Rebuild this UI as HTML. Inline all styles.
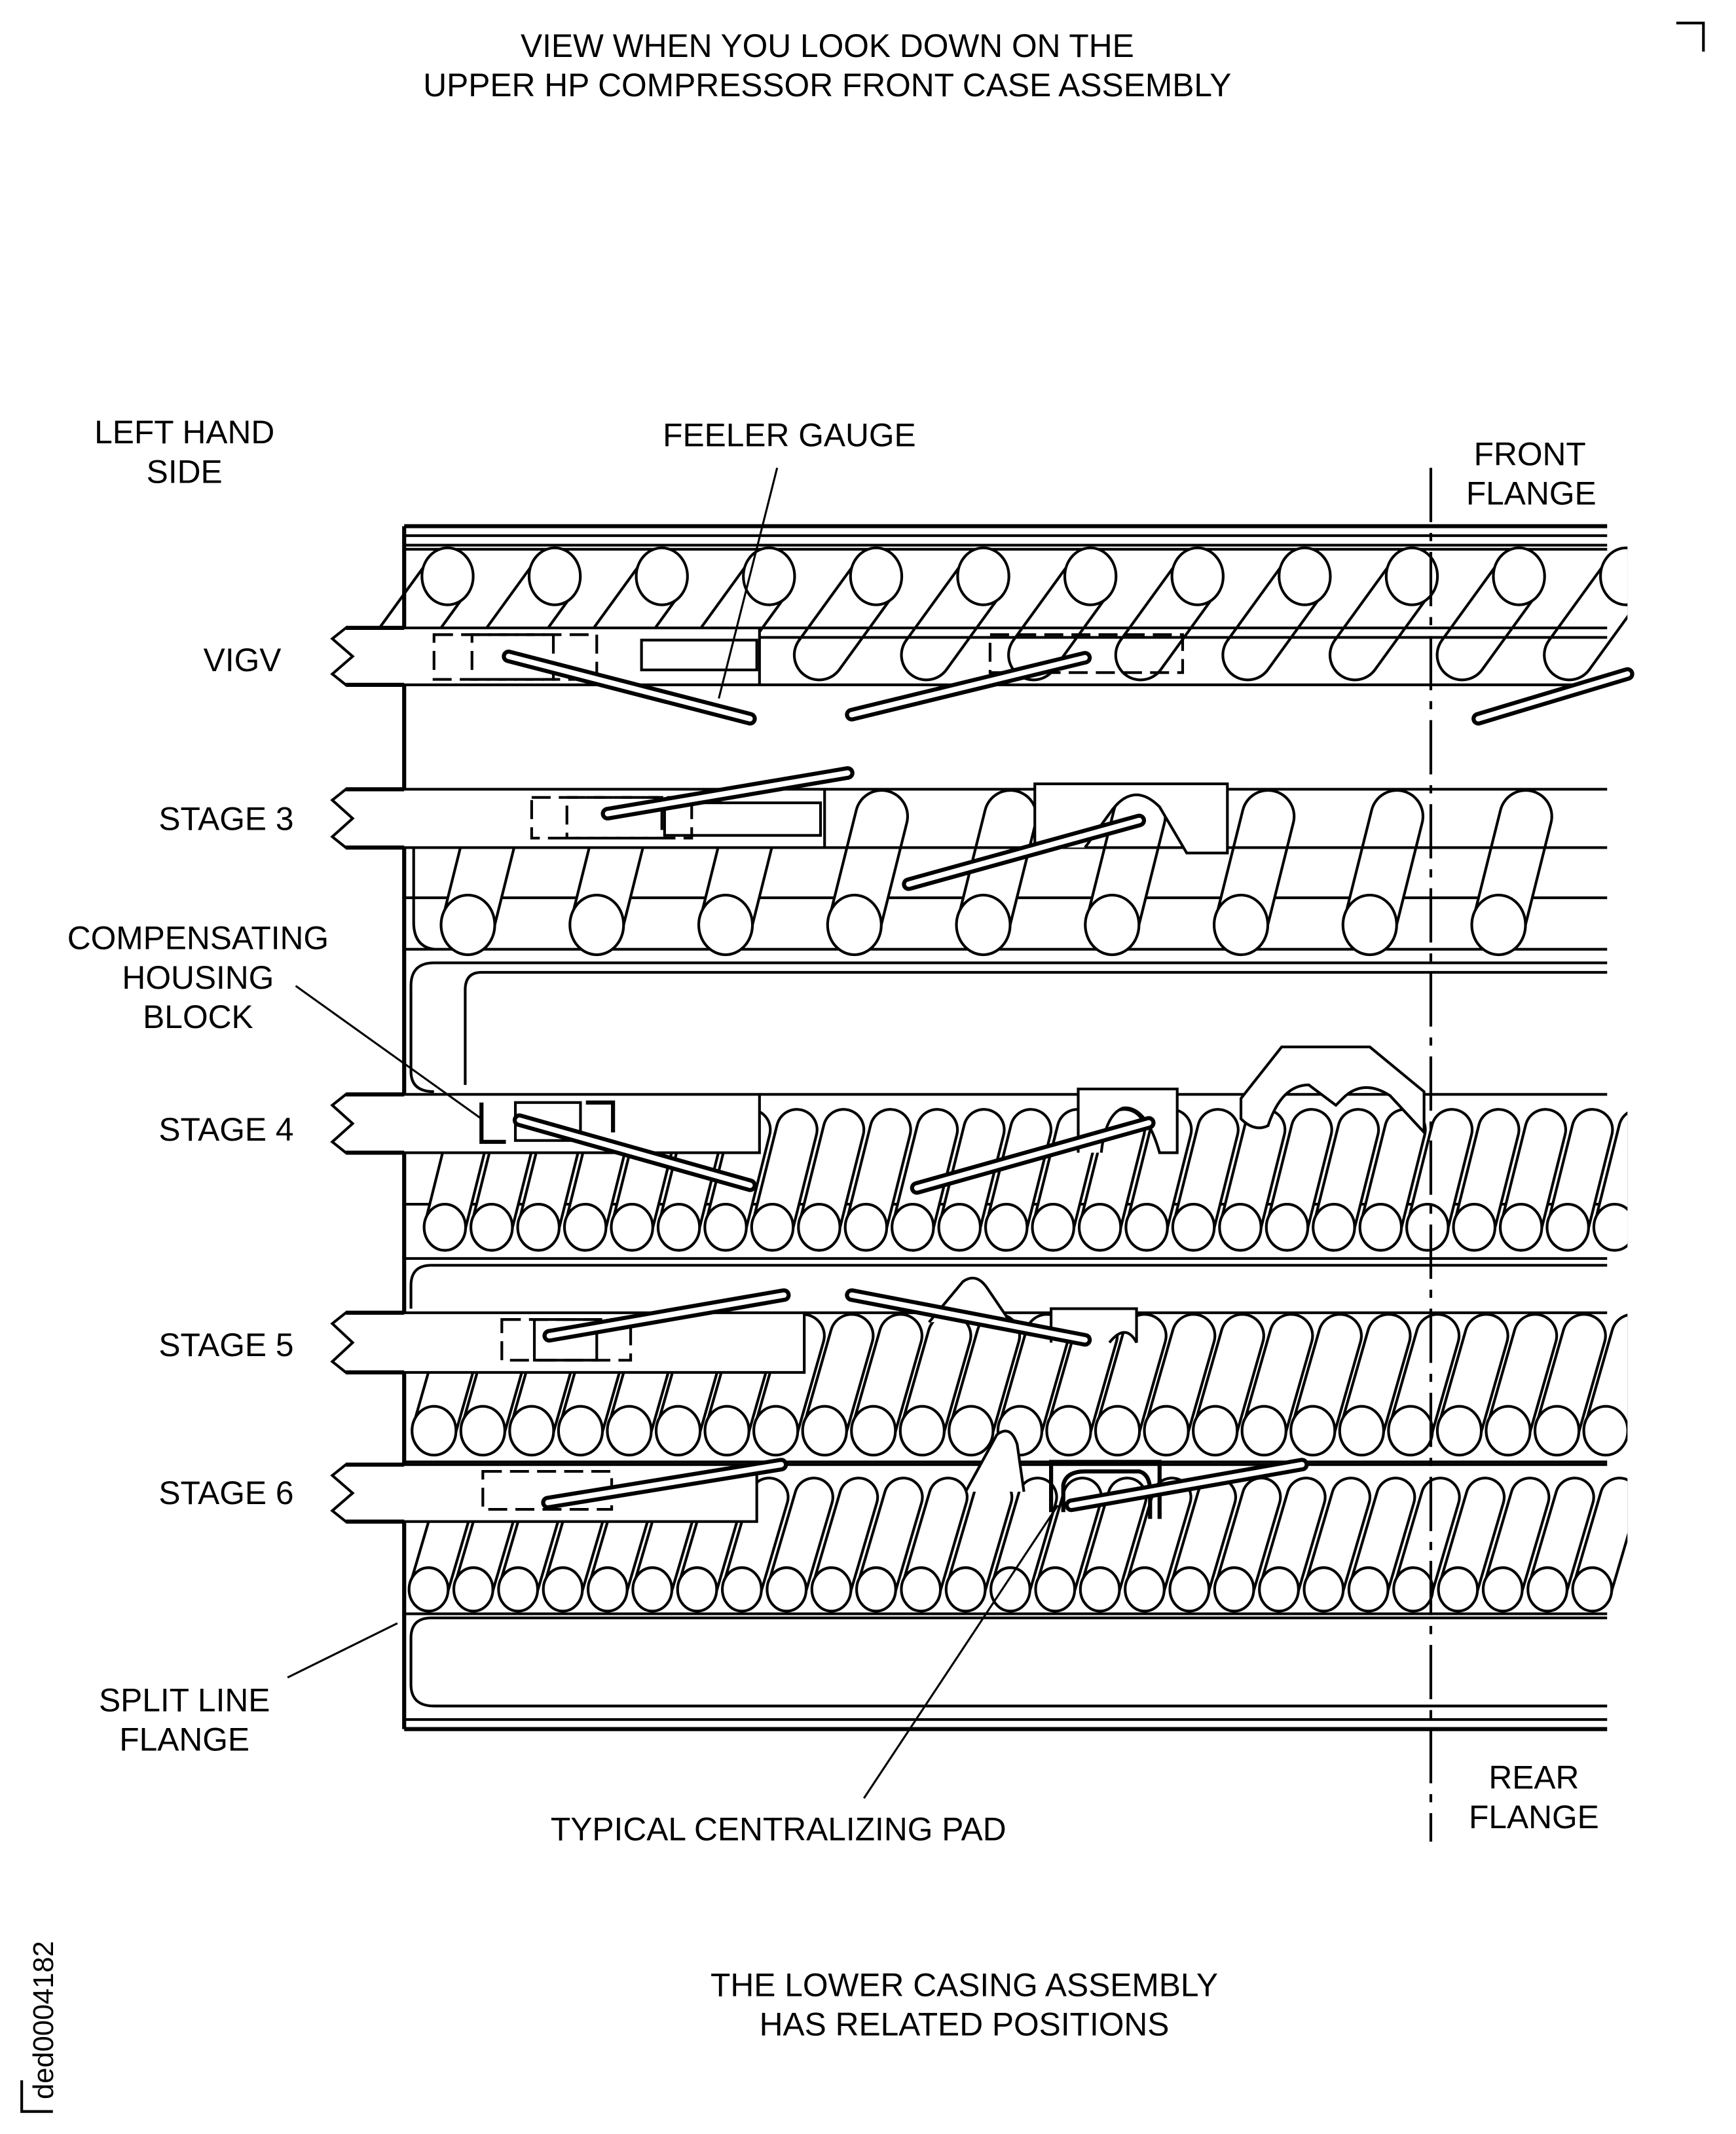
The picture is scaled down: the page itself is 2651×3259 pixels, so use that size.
<!DOCTYPE html>
<html><head><meta charset="utf-8"><style>
html,body{margin:0;padding:0;background:#fff}
svg{display:block}
text{font-family:"Liberation Sans",sans-serif;font-size:24px;fill:#000}
</style></head><body>
<svg id="s" xmlns="http://www.w3.org/2000/svg" width="2651" height="3259" viewBox="0 0 1280 1573.6">
<defs><clipPath id="cp"><rect x="0" y="0" width="1200" height="1574"/></clipPath></defs>
<rect width="1280" height="1574" fill="#fff"/>
<g id="vanes" clip-path="url(#cp)"></g>
<g id="fg" fill="none" stroke="#000" stroke-width="2">
</g>
<g text-anchor="middle">
<text x="610" y="42">VIEW WHEN YOU LOOK DOWN ON THE</text>
<text x="610" y="71">UPPER HP COMPRESSOR FRONT CASE ASSEMBLY</text>
<text x="136" y="327">LEFT HAND</text>
<text x="136" y="356">SIDE</text>
<text x="582" y="329">FEELER GAUGE</text>
<text x="1128" y="343">FRONT</text>
<text x="1129" y="372">FLANGE</text>
<text x="146" y="700">COMPENSATING</text>
<text x="146" y="729">HOUSING</text>
<text x="146" y="758">BLOCK</text>
<text x="136" y="1262">SPLIT LINE</text>
<text x="136" y="1291">FLANGE</text>
<text x="574" y="1357">TYPICAL CENTRALIZING PAD</text>
<text x="1131" y="1319">REAR</text>
<text x="1131" y="1348">FLANGE</text>
<text x="711" y="1472">THE LOWER CASING ASSEMBLY</text>
<text x="711" y="1501">HAS RELATED POSITIONS</text>
</g>
<text x="150" y="495">VIGV</text>
<text x="117" y="612">STAGE 3</text>
<text x="117" y="841">STAGE 4</text>
<text x="117" y="1000">STAGE 5</text>
<text x="117" y="1109">STAGE 6</text>
<text transform="translate(39,1548) rotate(-90)" style="font-size:21px">ded0004182</text>
<path d="M16,1534 V1557 H39" fill="none" stroke="#000" stroke-width="2"/>
<path d="M1236,17 H1256 V38" fill="none" stroke="#000" stroke-width="2"/>
</svg>
<script>
var NS="http://www.w3.org/2000/svg";
var V=document.getElementById("vanes"), F=document.getElementById("fg");
function el(p,t,a){var e=document.createElementNS(NS,t);for(var k in a)e.setAttribute(k,a[k]);p.appendChild(e);return e;}
function vane(cx,cy,r,dx,dy){
 el(V,"line",{x1:cx,y1:cy,x2:cx+dx,y2:cy+dy,stroke:"#000","stroke-width":2*r*0.85+3,"stroke-linecap":"round"});
 el(V,"line",{x1:cx,y1:cy,x2:cx+dx,y2:cy+dy,stroke:"#fff","stroke-width":2*r*0.85-1,"stroke-linecap":"round"});
 el(V,"ellipse",{cx:cx,cy:cy,rx:r*0.9,ry:r,fill:"#fff",stroke:"#000","stroke-width":2});
}
function L(x1,y1,x2,y2,w){el(F,"line",{x1:x1,y1:y1,x2:x2,y2:y2,"stroke-width":w||2});}
function HL(y,x1,x2,w){el(V,"line",{x1:x1||298,y1:y,x2:x2||1185,y2:y,stroke:"#000","stroke-width":w||2});}
HL(405);HL(662);HL(700);HL(888);HL(928);HL(1078);HL(1190);
for(var x=330;x<1200;x+=79) vane(x,425,21,-42,58);
for(var x=345;x<1200;x+=95) vane(x,682,22,20,-80);
for(var x=328;x<1205;x+=34.5) vane(x,905,17,18,-72);
for(var x=320;x<1205;x+=36) vane(x,1055,18,20,-70);
for(var x=316;x<1205;x+=33) vane(x,1172,16,20,-68);
L(298,388,1185,388,3);L(298,395,1185,395,2);L(298,402,1185,402,2);
L(298,1268,1185,1268,2);L(298,1275,1185,1275,3);
L(298,388,298,1275,3);
el(F,"path",{d:"M1185,710 H320 Q303,710 303,727 V790 Q303,805 320,805"});
el(F,"path",{d:"M1185,717 H355 Q343,717 343,730 V800"});
el(F,"path",{d:"M1185,933 H318 Q303,933 303,948 V965"});
el(F,"path",{d:"M1185,1193 H318 Q303,1193 303,1208 V1242 Q303,1258 320,1258 H1185"});
el(F,"path",{d:"M305,625 V680 Q305,698 320,700"});
function strip(y1,y2,x2){
 var m=(y1+y2)/2;
 el(F,"path",{d:"M"+x2+","+y1+" H255 L245,"+(y1+8)+" L260,"+m+" L245,"+(y2-8)+" L255,"+y2+" H"+x2+" V"+y1+" Z",fill:"#fff","stroke-width":2});
 L(255,y1,298,y1,3);L(255,y2,298,y2,3);
}
strip(463,505,560);strip(582,625,608);strip(807,850,560);strip(968,1012,593);strip(1080,1122,558);
L(560,463,1185,463);L(560,470,1185,470);L(560,505,1185,505);
L(608,582,1185,582);L(608,625,1185,625);
L(560,807,1185,807);L(593,968,1185,968);L(558,1080,1185,1080);
var ds={"stroke-dasharray":"14,6",fill:"none",stroke:"#000","stroke-width":2};
function db(x,y,w,h){var a={x:x,y:y,width:w,height:h};for(var k in ds)a[k]=ds[k];el(F,"rect",a);}
db(320,468,120,33);db(348,468,60,33);db(730,468,142,28);db(392,588,118,30);db(418,588,70,30);
db(370,973,95,30);db(356,1085,95,28);
el(F,"rect",{x:473,y:472,width:85,height:22});el(F,"rect",{x:490,y:592,width:115,height:24});
el(F,"path",{d:"M355,813 V842 H373 M432,813 H452 V835","stroke-width":3});
el(F,"rect",{x:380,y:813,width:48,height:28});el(F,"rect",{x:394,y:973,width:46,height:30});
el(F,"path",{d:"M763,625 V578 H905 V629 H875 L855,595 Q835,575 818,600 L800,625",fill:"#fff"});
el(F,"path",{d:"M795,850 V803 H868 V850 H855 Q845,815 828,817 Q815,822 812,850",fill:"#fff"});
el(F,"path",{d:"M915,810 L945,772 H1010 L1050,805 V835 L1025,808 Q1005,795 990,810 L985,815 L965,800 Q945,800 935,830 Q925,835 915,825 Z",fill:"#fff"});
el(F,"path",{d:"M685,975 L710,945 Q720,938 728,950 L745,975",fill:"#fff"});
el(F,"path",{d:"M775,990 V965 H838 V990 Q830,975 818,990",fill:"#fff"});
el(F,"path",{d:"M712,1100 L735,1058 Q745,1050 750,1065 L755,1100",fill:"#fff"});
el(F,"path",{d:"M775,1115 V1078 H855 V1120 M784,1115 V1095 Q786,1085 800,1085 H840 Q848,1087 848,1100 V1120","stroke-width":3});
function fg(x1,y1,x2,y2){el(F,"line",{x1:x1,y1:y1,x2:x2,y2:y2,"stroke-width":10,"stroke-linecap":"round"});el(F,"line",{x1:x1,y1:y1,x2:x2,y2:y2,stroke:"#fff","stroke-width":4,"stroke-linecap":"round"});}
fg(375,484,553,530);fg(628,527,800,485);fg(1090,530,1200,497);
fg(448,600,625,570);fg(670,652,840,605);
fg(383,826,553,874);fg(676,876,847,828);
fg(405,985,578,955);fg(628,955,800,988);
fg(404,1108,576,1080);fg(790,1110,960,1080);
L(573,345,530,515,1.5);L(218,727,355,825,1.5);L(212,1237,293,1197,1.5);L(637,1326,780,1110,1.5);
el(F,"line",{x1:1055,y1:345,x2:1055,y2:1358,"stroke-dasharray":"40,8,6,8","stroke-width":2});
</script>
</body></html>
